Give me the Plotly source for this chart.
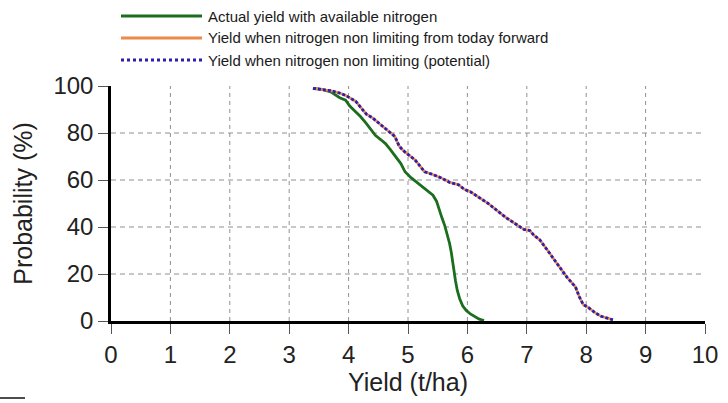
import plotly.graph_objects as go

# Actual yield with available nitrogen
actual_x = [3.40, 3.55, 3.70, 3.78, 3.85, 3.95, 4.02, 4.10, 4.20, 4.30, 4.38, 4.45, 4.55, 4.62,
            4.70, 4.78, 4.88, 4.95, 5.05, 5.15, 5.25, 5.35, 5.42, 5.48, 5.52, 5.57, 5.62, 5.66,
            5.70, 5.73, 5.75, 5.77, 5.80, 5.83, 5.87, 5.92, 5.98, 6.05, 6.12, 6.20, 6.28]
actual_y = [99.0, 98.6, 97.5, 96.0, 95.0, 94.0, 91.5, 89.5, 87.0, 84.0, 81.5, 79.0, 77.0, 75.5,
            73.0, 70.5, 67.0, 63.5, 61.0, 59.0, 57.0, 55.0, 53.5, 51.0, 47.5, 44.0, 40.5, 37.0,
            33.0, 29.0, 25.0, 21.0, 17.0, 13.0, 9.5, 6.5, 4.5, 3.0, 1.8, 0.8, 0.2]

# Yield when nitrogen non limiting from today forward
today_x = [3.40, 3.55, 3.70, 3.85, 3.95, 4.05, 4.12, 4.20, 4.30, 4.40, 4.50, 4.60, 4.70, 4.78,
           4.85, 4.92, 5.02, 5.12, 5.20, 5.28, 5.40, 5.55, 5.70, 5.85, 5.95, 6.05, 6.20, 6.35,
           6.50, 6.65, 6.80, 6.95, 7.05, 7.12, 7.22, 7.30, 7.38, 7.45, 7.52, 7.60, 7.68, 7.75,
           7.82, 7.88, 7.95, 8.05, 8.15, 8.25, 8.35, 8.45]
today_y = [99.0, 98.6, 98.0, 97.0, 96.0, 94.5, 93.5, 91.0, 88.0, 86.5, 84.5, 82.5, 80.5, 78.5,
           74.5, 72.5, 70.5, 68.5, 66.0, 63.5, 62.5, 61.0, 59.0, 58.0, 56.0, 55.0, 52.5, 50.0,
           47.0, 44.0, 41.5, 39.0, 38.5, 36.5, 34.5, 31.5, 29.0, 26.5, 24.0, 21.5, 18.5, 16.5,
           14.5, 10.5, 7.0, 5.5, 3.5, 2.0, 1.2, 0.5]

# Yield when nitrogen non limiting (potential)
potential_x = [3.40, 3.55, 3.70, 3.85, 3.95, 4.05, 4.12, 4.20, 4.30, 4.40, 4.50, 4.60, 4.70, 4.78,
               4.85, 4.92, 5.02, 5.12, 5.20, 5.28, 5.40, 5.55, 5.70, 5.85, 5.95, 6.05, 6.20, 6.35,
               6.50, 6.65, 6.80, 6.95, 7.05, 7.12, 7.22, 7.30, 7.38, 7.45, 7.52, 7.60, 7.68, 7.75,
               7.82, 7.88, 7.95, 8.05, 8.15, 8.25, 8.35, 8.45]
potential_y = [99.0, 98.6, 98.0, 97.0, 96.0, 94.5, 93.5, 91.0, 88.0, 86.5, 84.5, 82.5, 80.5, 78.5,
               74.5, 72.5, 70.5, 68.5, 66.0, 63.5, 62.5, 61.0, 59.0, 58.0, 56.0, 55.0, 52.5, 50.0,
               47.0, 44.0, 41.5, 39.0, 38.5, 36.5, 34.5, 31.5, 29.0, 26.5, 24.0, 21.5, 18.5, 16.5,
               14.5, 10.5, 7.0, 5.5, 3.5, 2.0, 1.2, 0.5]

x_ticks = [0, 1, 2, 3, 4, 5, 6, 7, 8, 9, 10]
y_ticks = [0, 20, 40, 60, 80, 100]

names = ["Actual yield with available nitrogen",
         "Yield when nitrogen non limiting from today forward",
         "Yield when nitrogen non limiting (potential)"]
colors = ["#1c6e1e", "#ec8a4c", "#2a1fb0"]
dashes = ["solid", "solid", "3px,2px"]
legend_dashes = ["solid", "solid", "dot"]
widths = [2.8, 2.6, 2.8]

FONT = "Liberation Sans, Arial, sans-serif"
W, H = 728, 403
ML, MR, MT, MB = 111, 23, 86, 82

fig = go.Figure()
for xs, ys, nm, c, d, w in [(actual_x, actual_y, names[0], colors[0], dashes[0], widths[0]),
                            (today_x, today_y, names[1], colors[1], dashes[1], widths[1]),
                            (potential_x, potential_y, names[2], colors[2], dashes[2], widths[2])]:
    fig.add_trace(go.Scatter(x=xs, y=ys, mode="lines", name=nm,
                             line=dict(color=c, width=w, dash=d), showlegend=False))

# grid lines (interior only), dashed
shapes = []
for v in x_ticks[1:-1]:
    shapes.append(dict(type="line", xref="x", yref="y", x0=v, x1=v, y0=0, y1=100,
                       line=dict(color="#909090", width=1, dash="4px,4px"), layer="below"))
for v in y_ticks[1:-1]:
    shapes.append(dict(type="line", xref="x", yref="y", x0=0, x1=10.1, y0=v, y1=v,
                       line=dict(color="#909090", width=1, dash="5px,4px"), layer="below"))

# manual legend
pw = W - ML - MR
ph = H - MT - MB
def px_to_paper_x(px):
    return (px - ML) / pw
def py_to_paper_y(py):
    return (H - MB - py) / ph

leg_y = [16, 38, 60]
annotations = []
for i in range(3):
    shapes.append(dict(type="line", xref="paper", yref="paper",
                       x0=px_to_paper_x(121), x1=px_to_paper_x(202),
                       y0=py_to_paper_y(leg_y[i]), y1=py_to_paper_y(leg_y[i]),
                       line=dict(color=colors[i], width=3, dash=legend_dashes[i])))
    annotations.append(dict(xref="paper", yref="paper", x=px_to_paper_x(206),
                            y=py_to_paper_y(leg_y[i]), text=names[i], showarrow=False,
                            xanchor="left", yanchor="middle",
                            font=dict(family=FONT, size=15, color="#1a1a1a")))

# small artifact line bottom-left
shapes.append(dict(type="line", xref="paper", yref="paper",
                   x0=px_to_paper_x(0), x1=px_to_paper_x(25),
                   y0=py_to_paper_y(398), y1=py_to_paper_y(398),
                   line=dict(color="#111", width=1.5)))

fig.update_layout(
    width=W, height=H,
    margin=dict(l=ML, r=MR, t=MT, b=MB),
    paper_bgcolor="white", plot_bgcolor="white",
    shapes=shapes, annotations=annotations,
    font=dict(family=FONT, color="#222"),
    xaxis=dict(range=[0, 10], tickvals=x_ticks, ticktext=[str(v) for v in x_ticks],
               showgrid=False, zeroline=False, showline=True, linecolor="#000", linewidth=2.5,
               ticks="outside", ticklen=10, tickcolor="#555", tickwidth=1, automargin=False,
               tickfont=dict(size=24, family=FONT, color="#222"),
               title=dict(text="Yield (t/ha)", font=dict(size=25, family=FONT, color="#222"),
                          standoff=6)),
    yaxis=dict(range=[0, 100], tickvals=y_ticks, ticktext=[str(v) for v in y_ticks],
               showgrid=False, zeroline=False, showline=True, linecolor="#000", linewidth=2.5,
               ticks="outside", ticklen=10, tickcolor="#555", tickwidth=1, automargin=False,
               tickfont=dict(size=24, family=FONT, color="#222"),
               title=dict(text="Probability (%)", font=dict(size=25, family=FONT, color="#222"),
                          standoff=14)),
)

fig.write_html("out.html")
